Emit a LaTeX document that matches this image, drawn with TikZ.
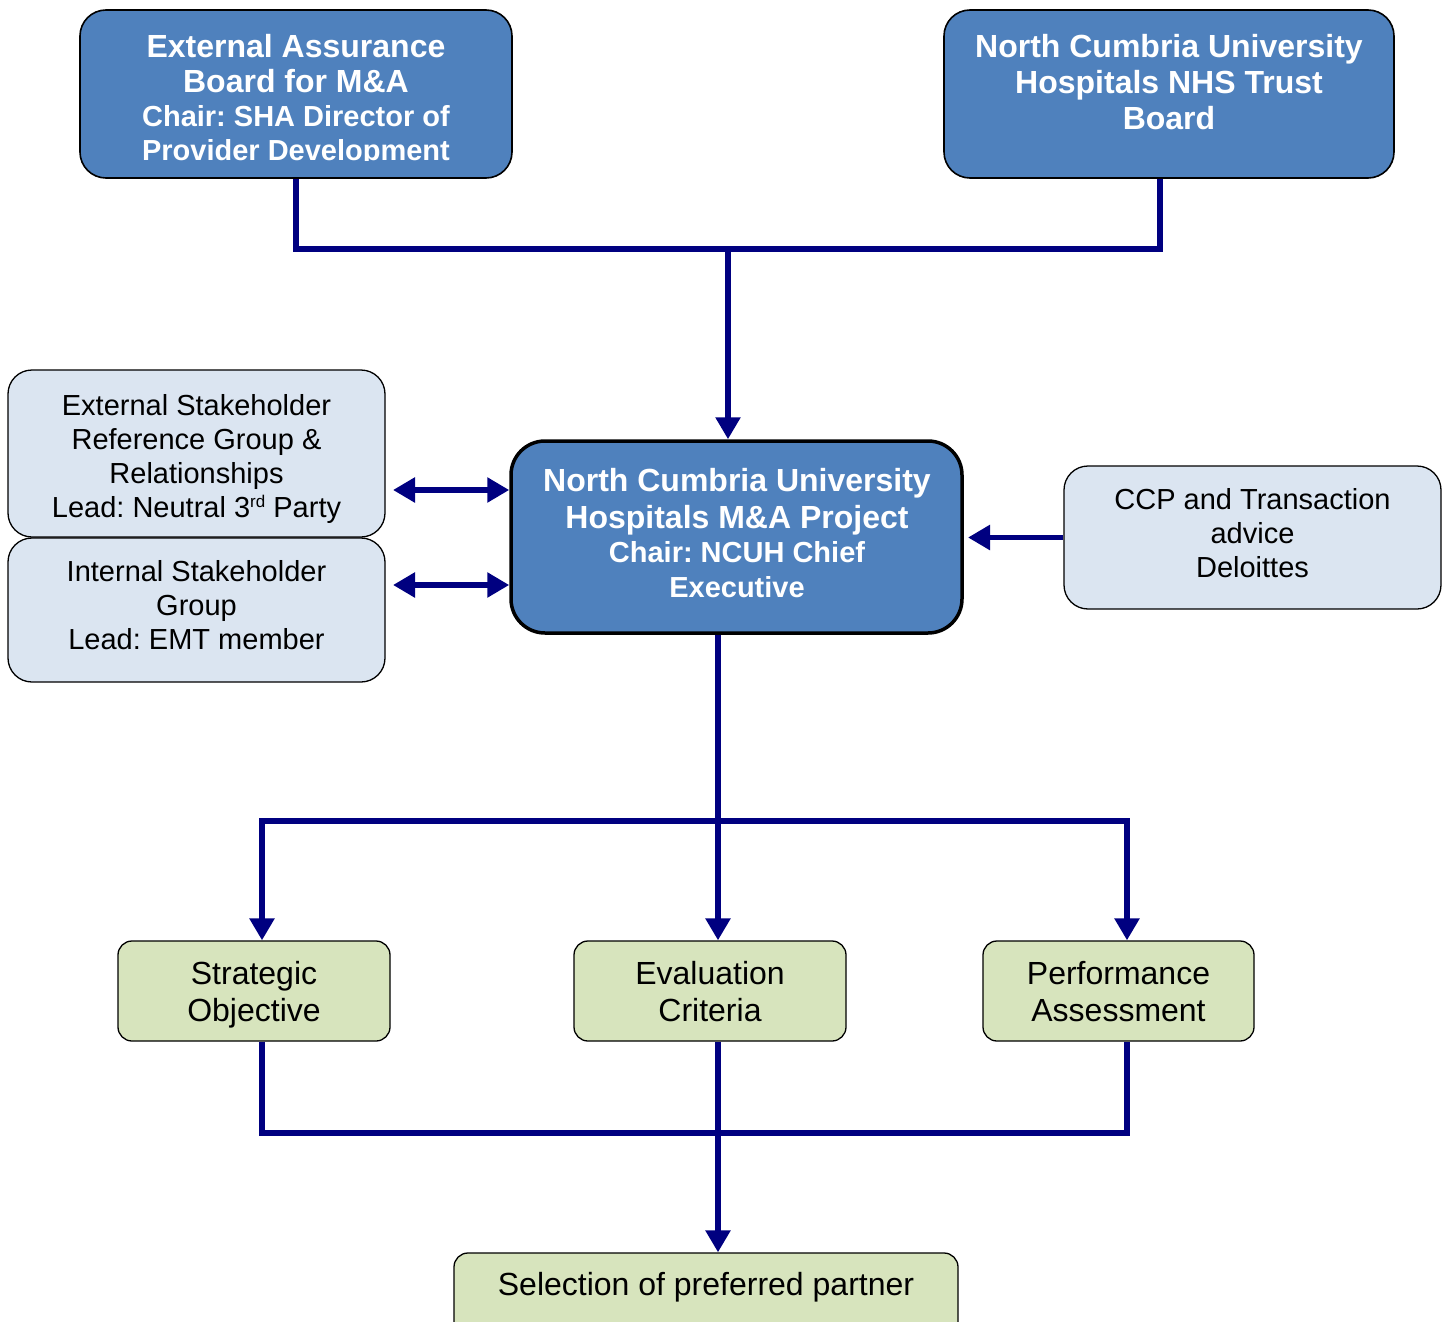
\documentclass[tikz,border=0pt]{standalone}
\usepackage{fontspec}
\setmainfont{Liberation Sans}
\usetikzlibrary{arrows.meta}
\definecolor{boxblue}{HTML}{4F81BD}
\definecolor{lightblue}{HTML}{DBE5F1}
\definecolor{lightgreen}{HTML}{D7E4BD}
\definecolor{navy}{HTML}{000080}
\frenchspacing
\begin{document}
\begin{tikzpicture}[x=1pt,y=-1pt,
  bluebox/.style={draw=black,line width=1.6pt,fill=boxblue,rounded corners=26pt,inner sep=0pt},
  centerbox/.style={draw=black,line width=3.5pt,fill=boxblue,rounded corners=34pt,inner sep=0pt},
  lbbox/.style={draw=black,line width=1.3pt,fill=lightblue,rounded corners=24pt,inner sep=0pt},
  grbox/.style={draw=black,line width=1.3pt,fill=lightgreen,rounded corners=14pt,inner sep=0pt},
  wtxt/.style={text=white,align=center,font=\frenchspacing\fontsize{32}{36}\selectfont\bfseries,inner sep=0pt},
  ktxt/.style={text=black,align=center,font=\frenchspacing\fontsize{29}{34}\selectfont,inner sep=0pt},
  gtxt/.style={text=black,align=center,font=\frenchspacing\fontsize{32}{37}\selectfont,inner sep=0pt},
  conn/.style={draw=navy,line width=5.5pt},
  navytip/.tip={Triangle[length=22pt,width=24pt]}
]
\fill[white] (0,0) rectangle (1452,1322);
\useasboundingbox (0,0) rectangle (1452,1322);

% boxes
\node[bluebox,minimum width=432pt,minimum height=168pt] (eab) at (296,94) {};
\node[bluebox,minimum width=450pt,minimum height=168pt] (ncb) at (1169,94) {};
\node[centerbox,minimum width=451pt,minimum height=192pt] (ncp) at (736.5,537) {};
\node[lbbox,minimum width=377pt,minimum height=167pt] (esr) at (196.5,453.5) {};
\node[lbbox,minimum width=377pt,minimum height=144pt] (isg) at (196.5,610) {};
\node[lbbox,minimum width=377pt,minimum height=143pt] (ccp) at (1252.5,537.5) {};
\node[grbox,minimum width=272pt,minimum height=100pt] (so) at (254,991) {};
\node[grbox,minimum width=272pt,minimum height=100pt] (ec) at (710,991) {};
\node[grbox,minimum width=271pt,minimum height=100pt] (pa) at (1118.5,991) {};
\node[grbox,minimum width=504pt,minimum height=92pt] (sel) at (706,1299) {};

% texts
\begin{scope}
\clip (80,10) rectangle (512,160);
\node[wtxt] (eabt) at (296,100) {External Assurance\\[-1pt]
  Board for M\&A\\[-2pt]
  {\fontsize{29}{34}\selectfont Chair: SHA Director of}\\[-2pt]
  {\fontsize{29}{34}\selectfont Provider Development}};
\end{scope}
\node[wtxt] (ncbt) at (1169,82) {North Cumbria University\\
  Hospitals NHS Trust\\
  Board};
\node[wtxt] (ncpt) at (737,533.5) {North Cumbria University\\[1pt]
  Hospitals M\&A Project\\[-2pt]
  {\fontsize{29}{34}\selectfont Chair: NCUH Chief}\\[-1pt]
  {\fontsize{29}{34}\selectfont Executive}};
\node[ktxt] (esrt) at (196.5,458.5) {External Stakeholder\\
  Reference Group \&\\
  Relationships\\
  Lead: Neutral 3\raisebox{10pt}{\fontsize{17}{17}\selectfont rd} Party};
\node[ktxt] (isgt) at (196.5,605) {Internal Stakeholder\\
  Group\\
  Lead: EMT member};
\node[ktxt] (ccpt) at (1252.5,533) {CCP and Transaction\\
  advice\\
  Deloittes};
\node[gtxt] (sot) at (254,994.5) {Strategic\\Objective};
\node[gtxt] (ect) at (710,991.5) {Evaluation\\Criteria};
\node[gtxt] (pat) at (1118.5,991.5) {Performance\\Assessment};
\node[gtxt] (selt) at (706,1287) {Selection of preferred partner};

% connector junctions
\coordinate (jl) at (296,249);
\coordinate (jr) at (1160,249);
\coordinate (jc) at (728,249);
\coordinate (a1) at (393,490);
\coordinate (a2) at (393,585);
\coordinate (ccptip) at (968,537.5);
\coordinate (m) at (718,821);
\coordinate (hl) at (262,821);
\coordinate (hr) at (1127,821);
\coordinate (bl) at (262,1133);
\coordinate (br) at (1127,1133);

% connectors
\draw[conn] (eab.south) -- (jl) -- (jr) -- (ncb.south -| jr);
\draw[conn,-navytip] (jc) -- (ncp.north -| jc);
\draw[conn,navytip-navytip] (a1) -- (ncp.west |- a1);
\draw[conn,navytip-navytip] (a2) -- (ncp.west |- a2);
\draw[conn,-navytip] (ccp.west |- ccptip) -- (ccptip);
\draw[conn,navytip-navytip] (so.north -| hl) -- (hl) -- (hr) -- (pa.north -| hr);
\draw[conn,-navytip] (ncp.south -| m) -- (ec.north -| m);
\draw[conn] (so.south -| bl) -- (bl) -- (br) -- (pa.south -| br);
\draw[conn,-navytip] (ec.south -| m) -- (sel.north -| m);
\end{tikzpicture}
\end{document}
